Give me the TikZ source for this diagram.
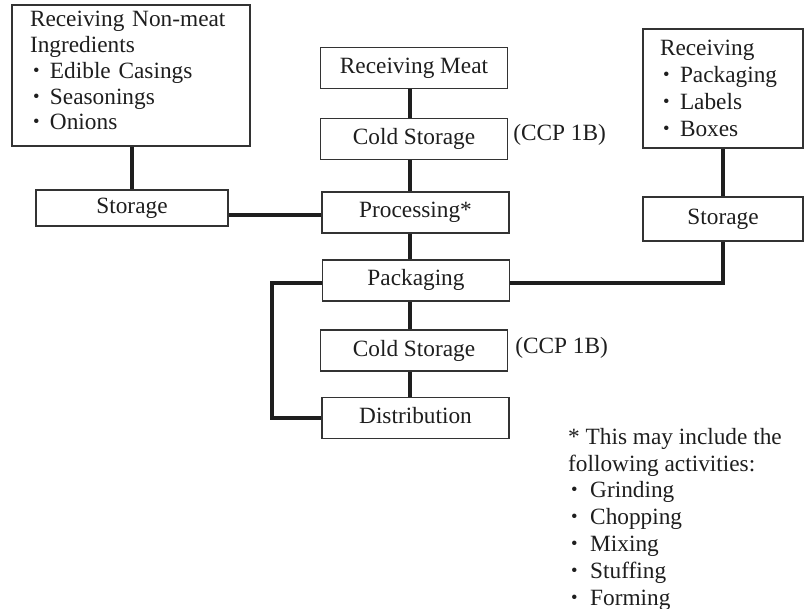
\documentclass[tikz,border=0pt]{standalone}
\usepackage{fontspec}
\setmainfont{Liberation Serif}
\usepackage{graphicx}
\usetikzlibrary{calc}
\definecolor{ink}{HTML}{1E1E1E}
\definecolor{edge}{HTML}{333333}
% bullet item: raised bullet, then the item text at a fixed indent
\newcommand{\bul}[2][20pt]{\makebox[#1][l]{\hspace{3pt}\raisebox{2pt}{\scalebox{0.8}{•}}}#2}

\begin{document}
\begin{tikzpicture}[x=1pt,y=-1pt,
  every node/.style={font=\fontsize{23.3}{24.5}\selectfont, text=ink},
  box/.style={draw=edge, line width=1.3pt, fill=white, inner sep=0pt},
  onebox/.style={box, text height=16pt, text depth=5pt},
  stepbox/.style={onebox, minimum width=187pt, minimum height=41pt},
  listbox/.style={box, align=left},
  tag/.style={anchor=base west, inner sep=0pt},
  link/.style={draw=ink, line width=4pt}
]
\useasboundingbox (0,0) rectangle (805,609);

% ingredients column
\node[listbox, minimum width=238pt, minimum height=141pt, text width=202pt,
      font=\fontsize{23.3}{25.8}\selectfont] (nonmeat) at (131,75.5)
  {Receiving Non-meat\\Ingredients\\\bul{Edible Casings}\\\bul{Seasonings}\\\bul{Onions}\rule[-10pt]{0pt}{10pt}};
\node[onebox, minimum width=192pt, minimum height=36pt] (storL) at (132,208) {Storage};

% main process line
\node[stepbox] (recmeat) at (414,68)    {Receiving Meat};
\node[stepbox] (cold1)   at (414,139)   {Cold Storage};
\node[stepbox] (proc)    at (415.5,212.5) {Processing*};
\node[stepbox] (pack)    at (416,280.5) {Packaging};
\node[stepbox] (cold2)   at (414,350.5) {Cold Storage};
\node[stepbox] (dist)    at (415.5,418) {Distribution};

\node[tag] (ccp1) at ([xshift=5pt,yshift=4pt]cold1.base east) {(CCP 1B)};
\node[tag] (ccp2) at ([xshift=7pt,yshift=3pt]cold2.base east) {(CCP 1B)};

% packaging materials column
\node[listbox, minimum width=160pt, minimum height=119pt, text width=126pt,
      font=\fontsize{23.3}{27}\selectfont] (recR) at (723,88.5)
  {Receiving\\\bul{Packaging}\\\bul{Labels}\\\bul{Boxes}};
\node[onebox, minimum width=160pt, minimum height=44pt] (storR) at (723,219) {Storage};

% footnote for the processing step
\node[anchor=north west, inner sep=0pt, align=left, font=\fontsize{23.3}{26.8}\selectfont] (note) at (568,428)
  {* This may include the\\following activities:\\\bul[22pt]{Grinding}\\\bul[22pt]{Chopping}\\\bul[22pt]{Mixing}\\\bul[22pt]{Stuffing}\\\bul[22pt]{Forming}};

% connectors
\coordinate (spine) at (410,0);
\coordinate (loopx) at (272,0);
\coordinate (procin) at ([yshift=-2.5pt]proc.west);
\coordinate (packout) at ([yshift=-2.5pt]pack.east);
\coordinate (packloop) at ([yshift=-2.5pt]pack.west);
\draw[link] (storL.north |- nonmeat.south) -- (storL.north);
\draw[link] (storL.east |- procin) -- (procin);
\draw[link] (recmeat.south -| spine) -- (cold1.north -| spine);
\draw[link] (cold1.south -| spine) -- (proc.north -| spine);
\draw[link] (proc.south -| spine) -- (pack.north -| spine);
\draw[link] (pack.south -| spine) -- (cold2.north -| spine);
\draw[link] (cold2.south -| spine) -- (dist.north -| spine);
\draw[link] (recR.south) -- (storR.north);
\draw[link] (packout) -| (storR.south);
\draw[link] (packloop) -- (packloop -| loopx) |- (dist.west);
\end{tikzpicture}
\end{document}
